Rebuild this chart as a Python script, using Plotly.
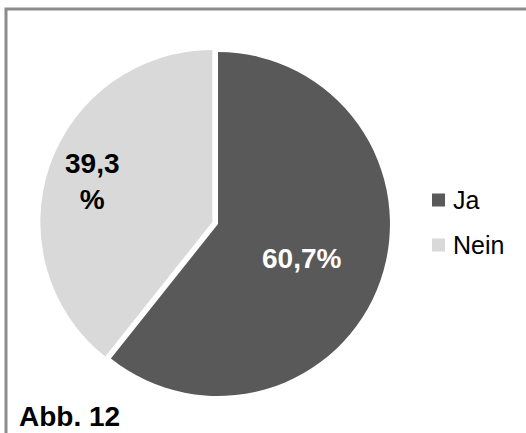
import plotly.graph_objects as go

W, H = 526, 433

labels = ["Ja", "Nein"]
values = [60.7, 39.3]
colors = ["#595959", "#d9d9d9"]
pulls = [0, 0.035]
caption = "Abb. 12"

FONT = "Arial, Liberation Sans, sans-serif"


def px(x):
    return x / W


def py(y):
    return 1 - y / H


def fmt(v):
    return f"{v:.1f}".replace(".", ",")


fig = go.Figure(
    go.Pie(
        labels=labels,
        values=values,
        marker=dict(colors=colors, line=dict(width=0)),
        pull=pulls,
        sort=False,
        direction="clockwise",
        rotation=0,
        textinfo="none",
        hoverinfo="label+percent",
        showlegend=False,
        domain=dict(x=[px(40), px(396)], y=[py(402), py(46)]),
    )
)

annotations = [
    # value labels inside the slices
    dict(x=px(301), y=py(258), text=fmt(values[0]) + "%",
         font=dict(family=FONT, size=28, color="#ffffff", weight="bold")),
    dict(x=px(92), y=py(181), text=fmt(values[1]) + "<br>%",
         font=dict(family=FONT, size=28, color="#000000", weight="bold")),
    # caption
    dict(x=px(17), y=py(416), text=caption, xanchor="left",
         font=dict(family=FONT, size=28, color="#000000", weight="bold")),
]

shapes = [
    # outer frame
    dict(type="rect", xref="paper", yref="paper",
         x0=px(6), x1=px(W + 10), y0=py(H + 10), y1=py(9),
         line=dict(color="#8c8c8c", width=3), fillcolor="rgba(0,0,0,0)"),
]

# legend drawn as swatches with text
legend_y = [200, 245]
for lab, col, ly in zip(labels, colors, legend_y):
    shapes.append(dict(type="rect", xref="paper", yref="paper",
                       x0=px(432), x1=px(445), y0=py(ly + 6.5), y1=py(ly - 6.5),
                       line=dict(width=0), fillcolor=col))
    annotations.append(dict(x=px(451), y=py(ly), text=lab, xanchor="left",
                            font=dict(family=FONT, size=25, color="#000000")))

for a in annotations:
    a.setdefault("xanchor", "center")
    a.update(xref="paper", yref="paper", yanchor="middle", showarrow=False)

fig.update_layout(
    width=W,
    height=H,
    margin=dict(l=0, r=0, t=0, b=0),
    paper_bgcolor="#ffffff",
    plot_bgcolor="#ffffff",
    annotations=annotations,
    shapes=shapes,
)

fig.write_html("out.html")
